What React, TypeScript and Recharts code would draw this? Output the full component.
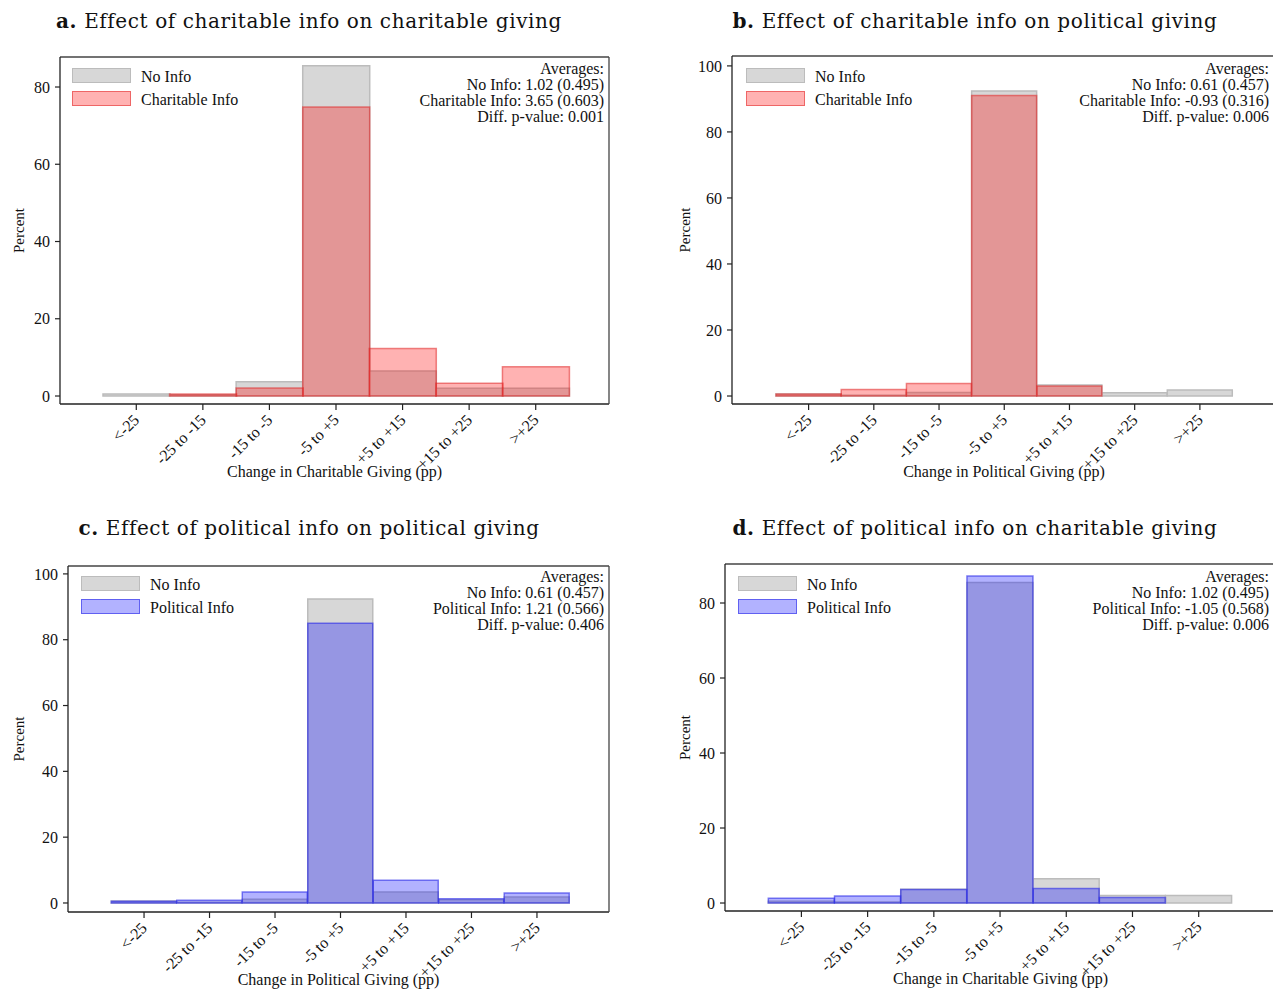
import React from 'react';
import { BarChart, Bar, XAxis, YAxis, Legend } from 'recharts';

const categories = ['<-25', '-25 to -15', '-15 to -5', '-5 to +5', '+5 to +15', '+15 to +25', '>+25'];

const noInfoCharitableGiving = [0.5, 0.3, 3.7, 85.5, 6.5, 2.0, 2.0];
const charitableInfoCharitableGiving = [0, 0.5, 2.1, 74.8, 12.3, 3.3, 7.6];
const noInfoPoliticalGiving = [0.6, 0.2, 1.1, 92.4, 3.3, 1.0, 1.8];
const charitableInfoPoliticalGiving = [0.6, 2.0, 3.8, 91.0, 3.0, 0, 0];
const politicalInfoPoliticalGiving = [0.5, 0.8, 3.3, 85.0, 6.9, 1.3, 3.0];
const politicalInfoCharitableGiving = [1.3, 1.9, 3.6, 87.2, 3.9, 1.5, 0];

const ticks80 = [0, 20, 40, 60, 80];
const ticks100 = [0, 20, 40, 60, 80, 100];

const FONT = '"Liberation Serif", "Times New Roman", serif';
const TITLE_FONT = '"DejaVu Serif", serif';
const TEXT = '#111';
const AXIS = '#222';
const FS = 16;

const RED = { name: 'Charitable Info', fill: '#ff0000', fillOpacity: 0.3, stroke: '#e02828', strokeOpacity: 0.55 };
const BLUE = { name: 'Political Info', fill: '#0000ff', fillOpacity: 0.3, stroke: '#2a2ae8', strokeOpacity: 0.6 };
const GRAY = { name: 'No Info', fill: '#d7d7d7', fillOpacity: 1, stroke: '#bcbcbc', strokeOpacity: 1 };

const panels = [
  {
    letter: 'a.', title: 'Effect of charitable info on charitable giving', titleCenter: 309, titleTop: 9,
    xTitle: 'Change in Charitable Giving (pp)', base: noInfoCharitableGiving, treat: charitableInfoCharitableGiving, treatStyle: RED,
    plotLeft: 60, plotTop: 57, plotRight: 609, plotBottom: 404, padL: 43, padR: 40,
    domain: [-2.07, 87.77], yTicks: ticks80, yLabelOffset: 19,
    notes: ['Averages:', 'No Info: 1.02 (0.495)', 'Charitable Info: 3.65 (0.603)', 'Diff. p-value: 0.001'], noteRight: 604, noteTop: 61,
    legendLeft: 72, legendTop: 68,
  },
  {
    letter: 'b.', title: 'Effect of charitable info on political giving', titleCenter: 975, titleTop: 9,
    xTitle: 'Change in Political Giving (pp)', base: noInfoPoliticalGiving, treat: charitableInfoPoliticalGiving, treatStyle: RED,
    plotLeft: 732, plotTop: 56, plotRight: 1276, plotBottom: 404, padL: 44, padR: 43.5,
    domain: [-2.42, 103.0], yTicks: ticks100, yLabelOffset: 13,
    notes: ['Averages:', 'No Info: 0.61 (0.457)', 'Charitable Info: -0.93 (0.316)', 'Diff. p-value: 0.006'], noteRight: 1269, noteTop: 61,
    legendLeft: 746, legendTop: 68,
  },
  {
    letter: 'c.', title: 'Effect of political info on political giving', titleCenter: 309, titleTop: 516,
    xTitle: 'Change in Political Giving (pp)', base: noInfoPoliticalGiving, treat: politicalInfoPoliticalGiving, treatStyle: BLUE,
    plotLeft: 68, plotTop: 566, plotRight: 609, plotBottom: 912, padL: 43.3, padR: 39.3,
    domain: [-2.74, 102.4], yTicks: ticks100, yLabelOffset: 11,
    notes: ['Averages:', 'No Info: 0.61 (0.457)', 'Political Info: 1.21 (0.566)', 'Diff. p-value: 0.406'], noteRight: 604, noteTop: 569,
    legendLeft: 81, legendTop: 576,
  },
  {
    letter: 'd.', title: 'Effect of political info on charitable giving', titleCenter: 975, titleTop: 516,
    xTitle: 'Change in Charitable Giving (pp)', base: noInfoCharitableGiving, treat: politicalInfoCharitableGiving, treatStyle: BLUE,
    plotLeft: 725, plotTop: 564, plotRight: 1276, plotBottom: 911, padL: 43.3, padR: 44.2,
    domain: [-2.13, 90.4], yTicks: ticks80, yLabelOffset: 20,
    notes: ['Averages:', 'No Info: 1.02 (0.495)', 'Political Info: -1.05 (0.568)', 'Diff. p-value: 0.006'], noteRight: 1269, noteTop: 569,
    legendLeft: 738, legendTop: 576,
  },
];

const RotTick = (props: any) => {
  const { x, y, payload } = props;
  return (
    <g transform={`translate(${x},${y + 5})`}>
      <text x={0} y={0} dy="0.35em" transform="rotate(-45)" textAnchor="end" fontSize={FS} fill={TEXT} fontFamily={FONT}>
        {payload.value}
      </text>
    </g>
  );
};

const PercentLabel = (props: any) => {
  const { viewBox, offset } = props;
  const cx = viewBox.x + offset;
  const cy = viewBox.y + viewBox.height / 2;
  return (
    <text x={cx} y={cy} transform={`rotate(-90, ${cx}, ${cy})`} textAnchor="middle" dy="0.35em" fontSize={15} fill={TEXT} fontFamily={FONT}>
      Percent
    </text>
  );
};

function Panel({ cfg }: { cfg: any }) {
  const data = categories.map((c, i) => ({ cat: c, base: cfg.base[i], treat: cfg.treat[i] }));
  const yAxisW = 60;
  const topAxisH = 1;
  const rightAxisW = 1;
  const mTop = 19;
  const mRight = 9;
  const xAxisH = 80;
  const left = cfg.plotLeft - yAxisW;
  const top = cfg.plotTop - mTop - topAxisH;
  const width = cfg.plotRight - cfg.plotLeft + yAxisW + mRight + rightAxisW;
  const height = cfg.plotBottom - cfg.plotTop + mTop + topAxisH + xAxisH;
  const series = [GRAY, cfg.treatStyle];
  const legendContent = () => (
    <div style={{ fontFamily: FONT, fontSize: FS, color: TEXT }}>
      {series.map((s: any, i: number) => (
        <div key={i} style={{ display: 'flex', alignItems: 'center', height: 15, marginBottom: 7.5 }}>
          <div style={{ position: 'relative', width: 59, height: 15, boxSizing: 'border-box' }}>
            <div style={{ position: 'absolute', inset: 0, background: s.fill, opacity: s.fillOpacity }} />
            <div style={{ position: 'absolute', inset: 0, border: `1.5px solid ${s.stroke}`, opacity: s.strokeOpacity }} />
          </div>
          <span style={{ marginLeft: 10, whiteSpace: 'nowrap', position: 'relative', top: 1.5 }}>{s.name}</span>
        </div>
      ))}
    </div>
  );
  return (
    <div style={{ position: 'absolute', left, top }}>
      <BarChart width={width} height={height} data={data} margin={{ top: mTop, right: mRight, left: 0, bottom: 0 }} barCategoryGap={0} barGap={0}>
        <XAxis
          xAxisId="bottom"
          dataKey="cat"
          interval={0}
          height={xAxisH}
          padding={{ left: cfg.padL, right: cfg.padR }}
          tick={<RotTick />}
          tickSize={6}
          axisLine={{ stroke: AXIS, strokeWidth: 1.3 }}
          tickLine={{ stroke: AXIS, strokeWidth: 1.2 }}
          label={{ value: cfg.xTitle, position: 'insideBottom', offset: 7, fill: TEXT, fontSize: FS, fontFamily: FONT }}
        />
        <XAxis
          xAxisId="top"
          dataKey="cat"
          orientation="top"
          interval={0}
          height={topAxisH}
          padding={{ left: cfg.padL, right: cfg.padR }}
          tick={false}
          tickLine={false}
          axisLine={{ stroke: '#444', strokeWidth: 1.3 }}
        />
        <YAxis
          yAxisId="left"
          type="number"
          domain={cfg.domain}
          ticks={cfg.yTicks}
          allowDataOverflow
          width={yAxisW}
          tickSize={5}
          tickMargin={5}
          tick={{ fill: TEXT, fontSize: FS, fontFamily: FONT }}
          axisLine={{ stroke: AXIS, strokeWidth: 1.3 }}
          tickLine={{ stroke: AXIS, strokeWidth: 1.2 }}
          label={{ content: (p: any) => <PercentLabel {...p} offset={cfg.yLabelOffset} /> }}
        />
        <YAxis
          yAxisId="right"
          orientation="right"
          type="number"
          domain={cfg.domain}
          allowDataOverflow
          width={rightAxisW}
          tick={false}
          tickLine={false}
          axisLine={{ stroke: '#444', strokeWidth: 1.3 }}
        />
        <Bar
          xAxisId="bottom"
          yAxisId="left"
          dataKey="base"
          name={GRAY.name}
          fill={GRAY.fill}
          stroke={GRAY.stroke}
          strokeWidth={1.5}
          isAnimationActive={false}
        />
        <Bar
          xAxisId="top"
          yAxisId="left"
          dataKey="treat"
          name={cfg.treatStyle.name}
          fill={cfg.treatStyle.fill}
          fillOpacity={cfg.treatStyle.fillOpacity}
          stroke={cfg.treatStyle.stroke}
          strokeOpacity={cfg.treatStyle.strokeOpacity}
          strokeWidth={1.5}
          isAnimationActive={false}
        />
        <Legend
          layout="vertical"
          align="center"
          verticalAlign="middle"
          content={legendContent}
          wrapperStyle={{ position: 'absolute', left: cfg.legendLeft - left, top: cfg.legendTop - top, width: 'auto', height: 'auto' }}
        />
      </BarChart>
    </div>
  );
}

export default function App() {
  return (
    <div style={{ position: 'relative', width: 1273, height: 991, overflow: 'hidden', background: '#fff', fontFamily: FONT, color: TEXT }}>
      <style>{'html, body { margin: 0; padding: 0; overflow: hidden; }'}</style>
      {panels.map((p, i) => (
        <React.Fragment key={i}>
          <Panel cfg={p} />
          <div
            style={{
              position: 'absolute', left: p.titleCenter - 320, width: 640, top: p.titleTop, textAlign: 'center',
              fontFamily: TITLE_FONT, fontSize: 20, lineHeight: '24px', letterSpacing: 0.6, whiteSpace: 'nowrap', color: TEXT,
            }}
          >
            <b>{p.letter}</b> {p.title}
          </div>
          <div
            style={{
              position: 'absolute', left: p.noteRight - 300, width: 300, top: p.noteTop, textAlign: 'right',
              fontFamily: FONT, fontSize: FS, lineHeight: '16px', color: TEXT, whiteSpace: 'nowrap',
            }}
          >
            {p.notes.map((n: string, k: number) => (
              <div key={k}>{n}</div>
            ))}
          </div>
        </React.Fragment>
      ))}
    </div>
  );
}
